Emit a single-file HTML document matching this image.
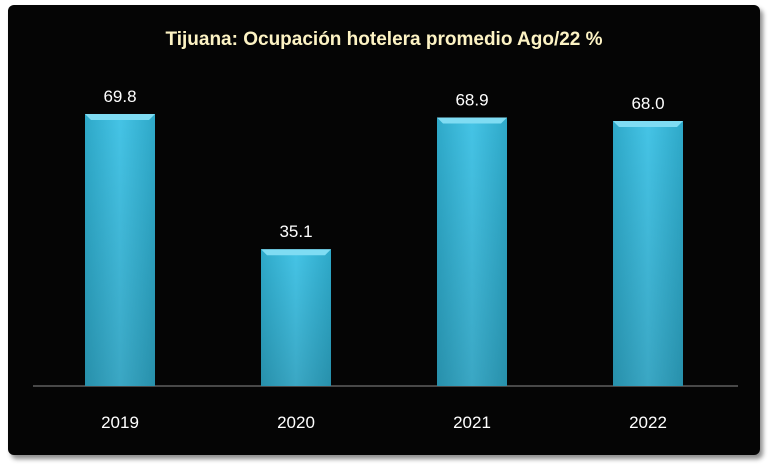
<!DOCTYPE html>
<html><head><meta charset="utf-8"><style>
html,body{margin:0;padding:0;background:#fff;}
body{width:769px;height:468px;position:relative;overflow:hidden;font-family:"Liberation Sans",sans-serif;}
#frame{position:absolute;left:8px;top:5px;width:752px;height:450px;background:#050505;border-radius:6px;box-shadow:3px 4px 5px rgba(0,0,0,0.45);}
</style></head><body>
<div id="frame"></div>
<svg id="chart" width="769" height="468" style="position:absolute;left:0;top:0">
<defs>
<linearGradient id="bg" x1="0" y1="0" x2="1" y2="0">
<stop offset="0" stop-color="#2ea9c9"/><stop offset="0.5" stop-color="#45c4e6"/><stop offset="1" stop-color="#2ea9c9"/>
</linearGradient>
<linearGradient id="vg" x1="0" y1="0" x2="0" y2="1">
<stop offset="0" stop-color="#000" stop-opacity="0"/><stop offset="1" stop-color="#000" stop-opacity="0.15"/>
</linearGradient>
</defs>
<text x="384" y="45" text-anchor="middle" font-size="19" font-weight="bold" fill="#fdf3c4">Tijuana: Ocupación hotelera promedio Ago/22 %</text>
<line x1="33" y1="386" x2="738" y2="386" stroke="#8a8a8a" stroke-width="1"/>
<g id="bars"></g>
</svg>
<script>
const categories = ["2019","2020","2021","2022"];
const values = [69.8, 35.1, 68.9, 68.0];
const valueLabels = ["69.8","35.1","68.9","68.0"];
const x0=32, band=176, baseY=386, pxPerUnit=3.897, barW=70;
function xCenter(i){return x0+band*i+band/2;}
function yPos(v){return baseY-v*pxPerUnit;}
const g=document.getElementById('bars');
const NS="http://www.w3.org/2000/svg";
values.forEach((v,i)=>{
  const cx=xCenter(i), top=yPos(v);
  const r=document.createElementNS(NS,'rect');
  
  
  r.setAttribute('x',cx-barW/2);r.setAttribute('y',top);
  r.setAttribute('width',barW);r.setAttribute('height',baseY-top);
  r.setAttribute('fill','url(#bg)');
  g.appendChild(r);
  const s=document.createElementNS(NS,'rect');
  
  
  s.setAttribute('x',cx-barW/2);s.setAttribute('y',top);
  s.setAttribute('width',barW);s.setAttribute('height',baseY-top);
  s.setAttribute('fill','url(#vg)');
  g.appendChild(s);
  const b=document.createElementNS(NS,'polygon');
  
  
  b.setAttribute('points',`${cx-barW/2},${top} ${cx+barW/2},${top} ${cx+barW/2-6},${top+6} ${cx-barW/2+6},${top+6}`);
  b.setAttribute('fill','#7fdcf3');
  g.appendChild(b);
  const t=document.createElementNS(NS,'text');
  
  
  t.setAttribute('x',cx);t.setAttribute('y',top-12);
  t.setAttribute('text-anchor','middle');t.setAttribute('font-size','17');t.setAttribute('fill','#fff');
  t.textContent=valueLabels[i];
  g.appendChild(t);
  const c=document.createElementNS(NS,'text');
  
  
  c.setAttribute('x',cx);c.setAttribute('y',428);
  c.setAttribute('text-anchor','middle');c.setAttribute('font-size','17');c.setAttribute('fill','#fff');
  c.textContent=categories[i];
  g.appendChild(c);
});
</script>
</body></html>
